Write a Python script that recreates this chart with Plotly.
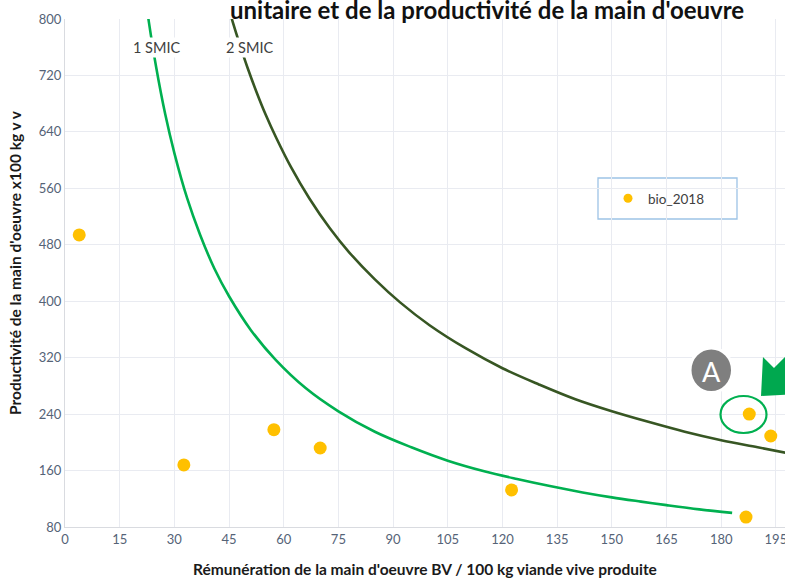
import plotly.graph_objects as go

# ---- data ----
remuneration = [3.9, 32.6, 57.3, 70.0, 122.5, 187.7, 193.6, 186.8]
productivite = [494, 168, 218, 192, 132.5, 240, 209, 94]

smic1_x = [21, 23, 25, 27.5, 30, 33.5, 37, 41, 45, 51, 57.6, 66, 75, 85, 95, 105, 115, 124, 133, 142, 150, 158, 165, 174, 183]
smic1_y = [871, 796, 732, 665, 610, 546, 495, 446, 407, 359, 318, 277, 244, 215, 193, 174, 159, 148, 138, 129, 122, 116, 111, 105, 100]

smic2_x = [42, 44, 46, 48, 50, 52.5, 55, 58, 62, 67, 72.7, 78, 85, 92, 100, 110, 120, 130, 140, 150, 160, 170, 180, 190, 200]
smic2_y = [871, 832, 796, 763, 732, 697, 665, 631, 590, 546, 503, 469, 431, 398, 366, 333, 305, 282, 261, 244, 229, 215, 203, 193, 183]

x_ticks = list(range(0, 196, 15))
y_ticks = list(range(80, 801, 80))

title_text = "unitaire et de la productivité de la main d'oeuvre"
x_title = "Rémunération de la main d'oeuvre BV / 100 kg viande vive produite"
y_title = "Productivité de la main d'oeuvre x100 kg v v"

FONT = "Lato, 'Open Sans', sans-serif"
W, H = 785, 579
L, R, T, B = 65, 0, 19, 52
PW, PH = W - L - R, H - T - B


def px(xp):
    return (xp - L) / PW


def py(yp):
    return (H - B - yp) / PH


fig = go.Figure()

fig.add_trace(go.Scatter(x=smic1_x, y=smic1_y, mode="lines", line=dict(color="#00B050", width=2.6, shape="spline"),
                         showlegend=False, hoverinfo="skip"))
fig.add_trace(go.Scatter(x=smic2_x, y=smic2_y, mode="lines", line=dict(color="#375623", width=2.6, shape="spline"),
                         showlegend=False, hoverinfo="skip"))
fig.add_trace(go.Scatter(x=remuneration, y=productivite, mode="markers", name="bio_2018",
                         marker=dict(color="#FFC000", size=13), showlegend=False))
# legend entry (smaller dot as in the reference)
fig.add_trace(go.Scatter(x=[None], y=[None], mode="markers", name="bio_2018",
                         marker=dict(color="#FFC000", size=9), showlegend=True))

shapes = [
    # legend box
    dict(type="rect", xref="paper", yref="paper", x0=px(598), x1=px(737), y0=py(219), y1=py(178),
         line=dict(color="#9DC3E6", width=1.3), fillcolor="white", layer="below"),
    # grey circle "A"
    dict(type="circle", xref="paper", yref="paper", x0=px(690), x1=px(732.5), y0=py(392.5), y1=py(348),
         line=dict(color="white", width=3), fillcolor="#7F7F7F"),
    # green ellipse around point
    dict(type="circle", xref="paper", yref="paper", x0=px(720.5), x1=px(766.5), y0=py(433), y1=py(396),
         line=dict(color="#00B050", width=2.2), fillcolor="rgba(0,0,0,0)"),
]

# green block arrow pointing down-left (partially out of view)
arrow_pts = [(761, 396), (763, 357), (774, 368), (815, 327), (830, 342), (789, 383), (800, 394)]
path = "M " + " L ".join(f"{px(a):.4f},{py(b):.4f}" for a, b in arrow_pts) + " Z"
shapes.append(dict(type="path", xref="paper", yref="paper", path=path,
                   line=dict(color="#00A84F", width=0), fillcolor="#00A84F"))

annotations = [
    dict(text=title_text, xref="paper", yref="paper", x=px(487), y=py(9), showarrow=False,
         font=dict(family=FONT, size=24, color="#111111", weight="bold"), xanchor="center", yanchor="middle"),
    dict(text="1 SMIC", x=25.2, y=760, xref="x", yref="y", showarrow=False,
         font=dict(family=FONT, size=14.5, color="#404040"), bgcolor="white"),
    dict(text="2 SMIC", x=50.8, y=760, xref="x", yref="y", showarrow=False,
         font=dict(family=FONT, size=14.5, color="#404040"), bgcolor="white"),
    dict(text="A", xref="paper", yref="paper", x=px(711.3), y=py(371), showarrow=False,
         font=dict(family=FONT, size=27, color="white"), xanchor="center", yanchor="middle"),
    dict(text=x_title, xref="paper", yref="paper", x=0.5, y=py(569), showarrow=False,
         font=dict(family=FONT, size=15.5, color="#1a1a1a", weight="bold"), xanchor="center", yanchor="middle"),
    dict(text=y_title, xref="paper", yref="paper", x=px(15), y=py(263), showarrow=False, textangle=-90,
         font=dict(family=FONT, size=15.5, color="#1a1a1a", weight="bold"), xanchor="center", yanchor="middle"),
]

fig.update_layout(
    width=W, height=H,
    margin=dict(l=L, r=R, t=T, b=B, pad=0, autoexpand=False),
    plot_bgcolor="white", paper_bgcolor="white",
    shapes=shapes, annotations=annotations,
    legend=dict(x=px(608), y=py(198.5), xanchor="left", yanchor="middle", bgcolor="rgba(0,0,0,0)",
                borderwidth=0, font=dict(family=FONT, size=13.5, color="#404040")),
    xaxis=dict(range=[0, 197.5], tickvals=x_ticks, ticktext=[str(v) for v in x_ticks],
               showgrid=True, gridcolor="#E9EBF1", gridwidth=1, zeroline=False, automargin=False,
               showline=True, linecolor="#D9DBE0", linewidth=1, ticks="", ticklabeloverflow="allow",
               tickfont=dict(family=FONT, size=13, color="#556377")),
    yaxis=dict(range=[80, 800], tickvals=y_ticks, ticktext=[str(v) for v in y_ticks],
               showgrid=True, gridcolor="#E9EBF1", gridwidth=1, zeroline=False, automargin=False,
               showline=True, linecolor="#D9DBE0", linewidth=1, ticks="", ticklabeloverflow="allow",
               tickfont=dict(family=FONT, size=13, color="#556377")),
)

fig.write_html("out.html", config={"displayModeBar": False},
               post_script="document.body.style.margin='0';document.body.style.overflow='hidden';")
